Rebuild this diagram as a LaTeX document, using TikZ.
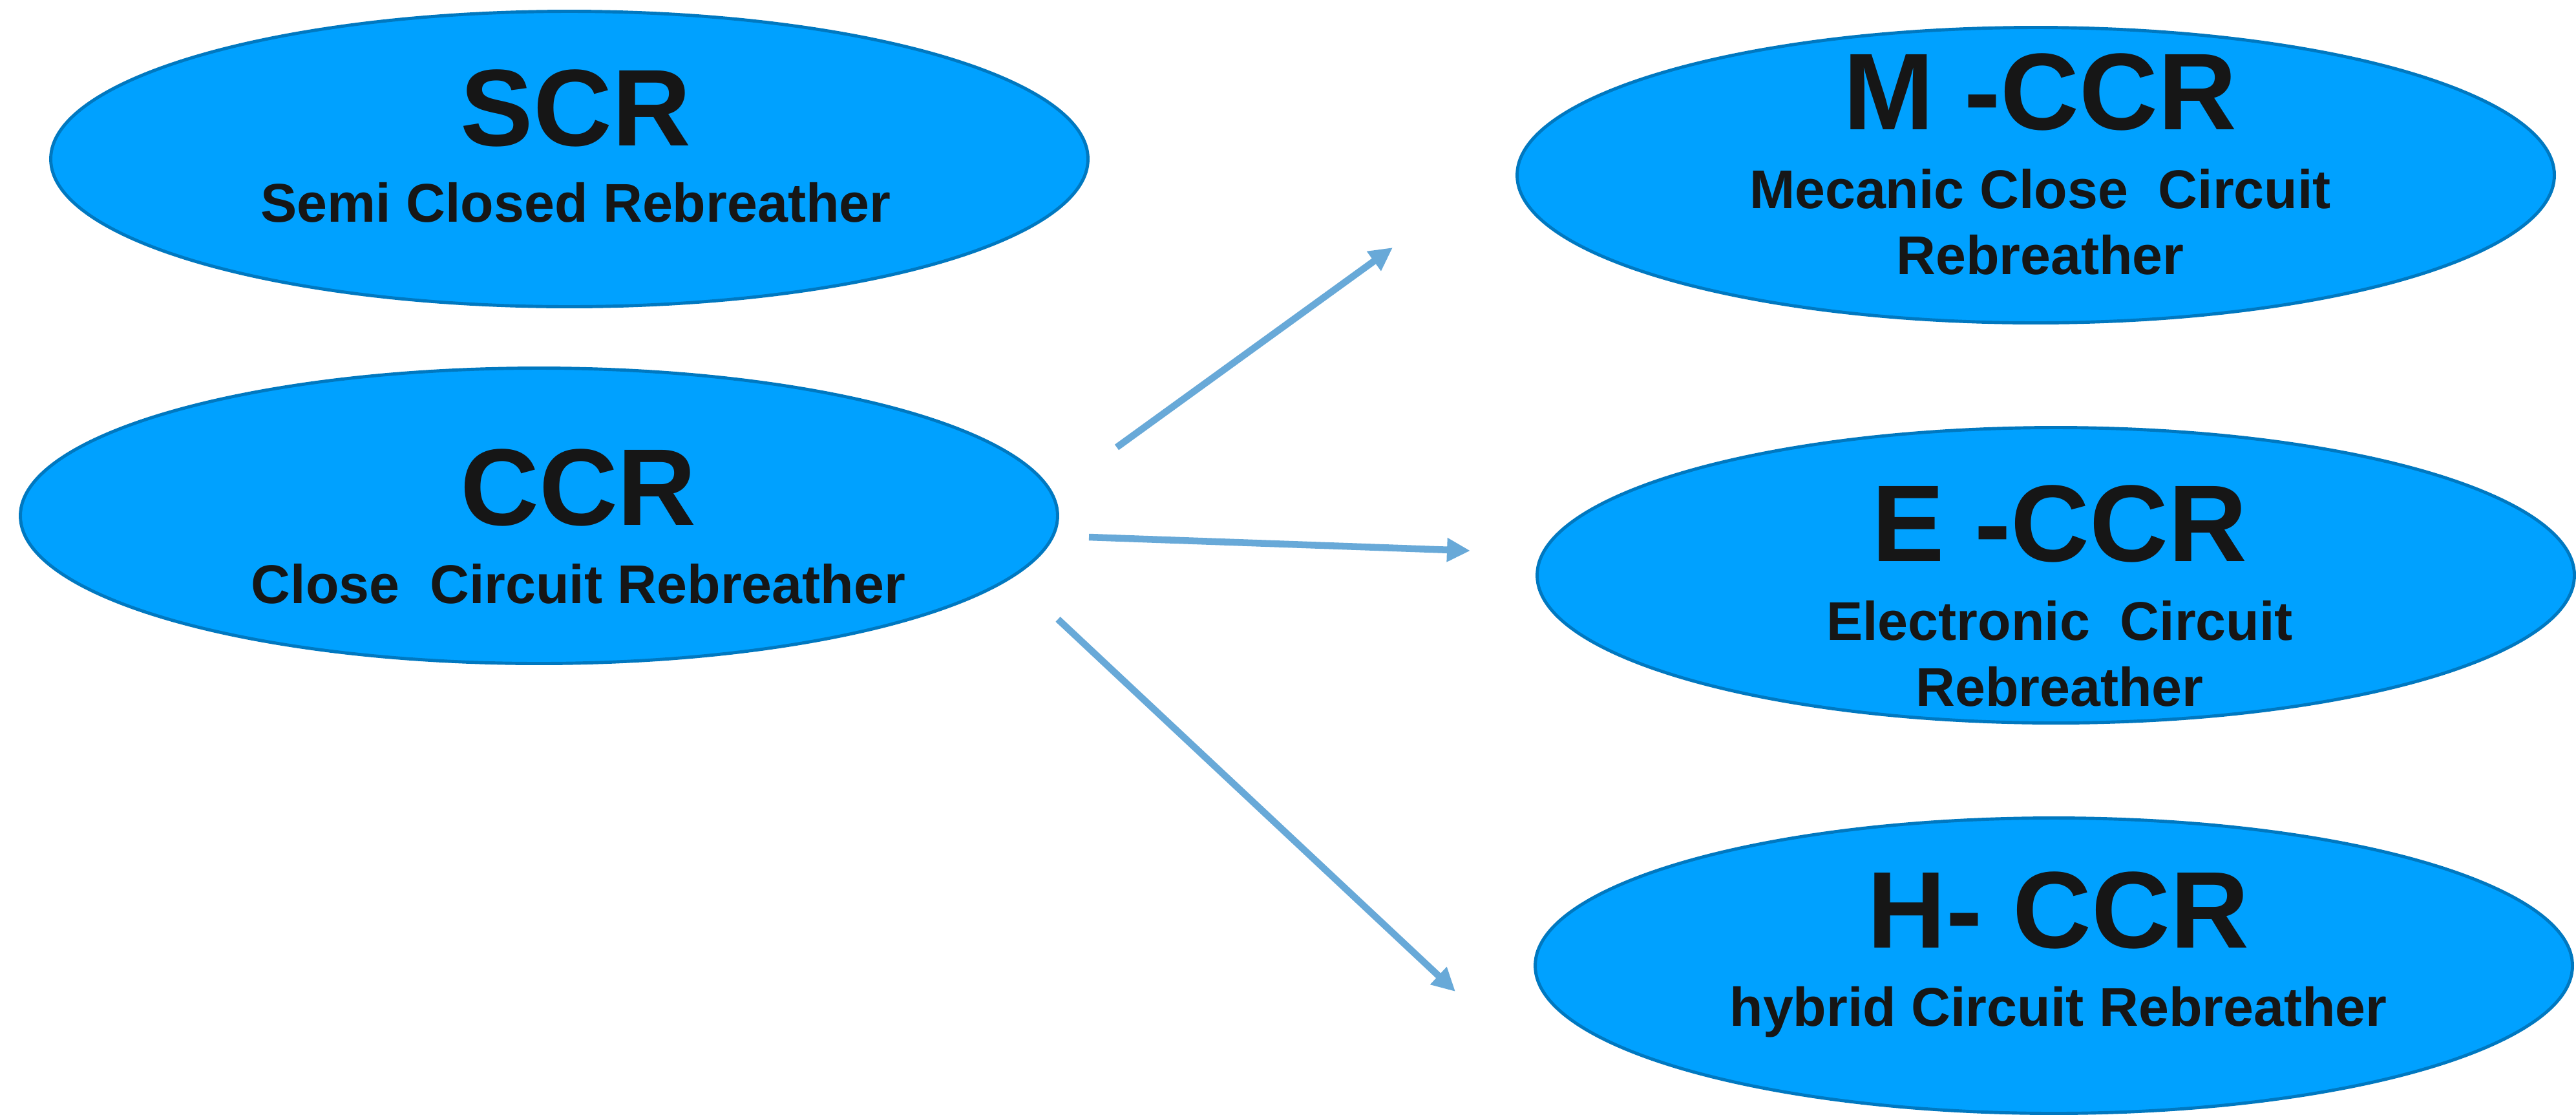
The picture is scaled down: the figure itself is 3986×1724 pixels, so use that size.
\documentclass[tikz,border=0pt]{standalone}
\usepackage{fontspec}
\setmainfont{Liberation Sans}
\usetikzlibrary{arrows.meta,shapes.geometric}
\definecolor{bubblefill}{RGB}{0,161,255}
\definecolor{bubbleline}{RGB}{0,120,192}
\definecolor{arrowblue}{RGB}{104,169,216}
\definecolor{inkdark}{RGB}{22,22,22}
\begin{document}
\begin{tikzpicture}[x=0.1mm, y=-0.1mm,
  bubble/.style={ellipse,draw=bubbleline,fill=bubblefill,line width=1.4pt,minimum width=160.5mm,minimum height=45.7mm,inner sep=0pt},
  title/.style={anchor=base,inner sep=0pt,text=inkdark,font=\fontsize{48}{56}\selectfont\bfseries},
  subtitle/.style={anchor=base,inner sep=0pt,text=inkdark,align=center,font=\fontsize{24}{29}\selectfont\bfseries},
  line/.style={draw=arrowblue,line width=3pt,-{Triangle[length=3.6mm,width=3.5mm]}}]
\useasboundingbox[fill=white] (0,0) rectangle (3986,1724);
\node[bubble] (scr) at (881,246) {};
\node[bubble] (ccr) at (834,798) {};
\node[bubble] (mccr) at (3150,271) {};
\node[bubble] (eccr) at (3181,890) {};
\node[bubble] (hccr) at (3178,1494) {};
\node[title] (scrT) at (891,225) {SCR};
\node[subtitle] (scrS) at (891,343) {Semi Closed Rebreather};
\node[title] (ccrT) at (895,812) {CCR};
\node[subtitle] (ccrS) at (895,933) {Close\ \ Circuit Rebreather};
\node[title] (mccrT) at (3157,200) {M -CCR};
\node[subtitle] (mccrS) at (3157,424) {Mecanic Close\ \ Circuit\\Rebreather};
\node[title] (eccrT) at (3187,868) {E -CCR};
\node[subtitle] (eccrS) at (3187,1092) {Electronic\ \ Circuit\\Rebreather};
\node[title] (hccrT) at (3185,1466) {H- CCR};
\node[subtitle] (hccrS) at (3185,1587) {hybrid Circuit Rebreather};
\coordinate (outM) at (1728,692);
\coordinate (inM) at (2155,383);
\coordinate (outE) at (1685,831);
\coordinate (inE) at (2275,852);
\coordinate (outH) at (1637,958);
\coordinate (inH) at (2252,1534);
\draw[line] (outM) -- (inM);
\draw[line] (outE) -- (inE);
\draw[line] (outH) -- (inH);
\end{tikzpicture}
\end{document}
